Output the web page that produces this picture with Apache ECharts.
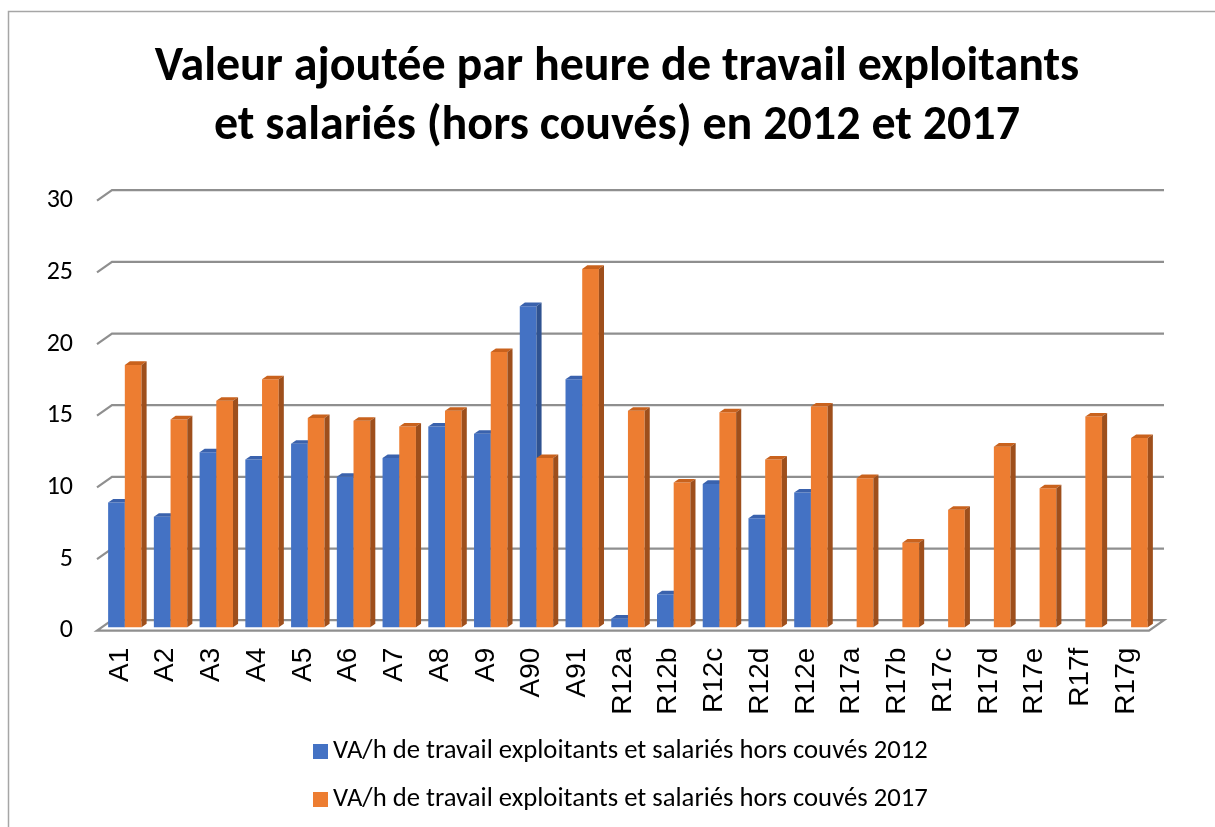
<!DOCTYPE html>
<html lang="fr">
<head>
    <meta charset="UTF-8">
    <title>VA par heure de travail</title>
    <script src="https://cdn.jsdelivr.net/npm/echarts@6/dist/echarts.min.js"></script>
    <style>
        html, body { margin: 0; padding: 0; background: #fff; }
    </style>
</head>
<body>
    <div id="main" style="width: 1215px;height: 827px;"></div>
<script>
    // categories et valeurs
    var categories = ['A1', 'A2', 'A3', 'A4', 'A5', 'A6', 'A7', 'A8', 'A9', 'A90', 'A91',
        'R12a', 'R12b', 'R12c', 'R12d', 'R12e',
        'R17a', 'R17b', 'R17c', 'R17d', 'R17e', 'R17f', 'R17g'];
    var va2012 = [8.7, 7.7, 12.2, 11.7, 12.8, 10.5, 11.8, 14.0, 13.5, 22.4, 17.3,
        0.6, 2.3, 10.0, 7.6, 9.4,
        null, null, null, null, null, null, null];
    var va2017 = [18.3, 14.5, 15.8, 17.3, 14.6, 14.4, 14.0, 15.1, 19.2, 11.8, 25.0,
        15.1, 10.1, 15.0, 11.7, 15.4,
        10.4, 5.9, 8.2, 12.6, 9.7, 14.7, 13.2];
    var yTicks = [0, 5, 10, 15, 20, 25, 30];

    var name2012 = 'VA/h de travail exploitants et salariés hors couvés 2012';
    var name2017 = 'VA/h de travail exploitants et salariés hors couvés 2017';

    var DX = 15, DY = -10.5;   // profondeur de la "boite" 3D
    var F0 = 0.33, F1 = 0.67;  // position des barres dans la profondeur
    var calibri = 'Calibri, Carlito, Lato, sans-serif';

    var myChart = echarts.init(document.getElementById('main'));

    // barre 3D : face avant, dessus, cote
    function bar3d(slot, front, topc, side) {
        return function (params, api) {
            var v = api.value(1);
            if (isNaN(v)) return;
            var base = api.coord([api.value(0), 0]);
            var top = api.coord([api.value(0), v]);
            var w = api.size([1, 0])[0] * 0.365;
            var x0 = base[0] - w + slot * w + DX * F0;
            var yb = base[1] + DY * F0;
            var yt = top[1] + DY * F0;
            var dx = DX * (F1 - F0), dy = DY * (F1 - F0);
            return {
                type: 'group',
                children: [
                    {type: 'rect', shape: {x: x0, y: yt, width: w, height: yb - yt}, style: {fill: front}},
                    {type: 'polygon', shape: {points: [[x0, yt], [x0 + w, yt], [x0 + w + dx, yt + dy], [x0 + dx, yt + dy]]}, style: {fill: topc}},
                    {type: 'polygon', shape: {points: [[x0 + w, yt], [x0 + w + dx, yt + dy], [x0 + w + dx, yb + dy], [x0 + w, yb]]}, style: {fill: side}}
                ]
            };
        };
    }

    // quadrillage sur le mur du fond + plancher
    function walls(params, api) {
        var v = api.value(1);
        var band = api.size([1, 0])[0];
        var p0 = api.coord([0, v]);
        var p1 = api.coord([categories.length - 1, v]);
        var xl = p0[0] - band / 2, xr = p1[0] + band / 2, y = p0[1];
        var lineStyle = {stroke: '#8f8f8f', lineWidth: 2.2, fill: null};
        if (v === 0) {
            return {
                type: 'polygon',
                shape: {points: [[xl, y], [xr, y], [xr + DX, y + DY], [xl + DX, y + DY]]},
                style: lineStyle
            };
        }
        return {
            type: 'polyline',
            shape: {points: [[xl, y], [xl + DX, y + DY], [xr + DX, y + DY]]},
            style: lineStyle
        };
    }

    myChart.setOption({
        backgroundColor: '#ffffff',
        animation: false,
        title: {
            text: 'Valeur ajoutée par heure de travail exploitants\net salariés (hors couvés) en 2012 et 2017',
            left: 612,
            textAlign: 'center',
            top: 33,
            textStyle: {
                fontFamily: calibri,
                fontSize: 48,
                fontWeight: 'bold',
                color: '#000',
                lineHeight: 59
            }
        },
        legend: {
            orient: 'vertical',
            left: 308,
            top: 733,
            itemWidth: 15,
            itemHeight: 15,
            itemGap: 21,
            icon: 'rect',
            data: [name2012, name2017],
            textStyle: {fontFamily: calibri, fontSize: 26.7, lineHeight: 27, color: '#000'}
        },
        grid: {left: 97, right: 66, top: 200.7, bottom: 196.3},
        xAxis: {
            type: 'category',
            data: categories,
            axisLine: {show: false},
            axisTick: {show: false},
            axisLabel: {
                rotate: 90,
                interval: 0,
                margin: 17,
                fontFamily: 'Liberation Sans, Arial, sans-serif',
                fontSize: 28,
                color: '#000'
            }
        },
        yAxis: {
            type: 'value',
            min: 0,
            max: 30,
            interval: 5,
            axisLine: {show: false},
            axisTick: {show: false},
            splitLine: {show: false},
            axisLabel: {
                margin: 24,
                fontFamily: calibri,
                fontSize: 26,
                padding: [6, 0, 0, 0],
                color: '#000'
            }
        },
        graphic: [{
            type: 'rect',
            shape: {x: 8.5, y: 11.5, width: 1300, height: 900},
            style: {fill: null, stroke: '#a6a6a6', lineWidth: 1.5},
            silent: true
        }],
        series: [
            {
                name: 'grille',
                type: 'custom',
                renderItem: walls,
                encode: {x: 0, y: 1},
                data: yTicks.map(function (t) { return [0, t]; }),
                z: 1,
                silent: true
            },
            {
                name: name2012,
                type: 'custom',
                renderItem: bar3d(0, '#4472c4', '#3a62ad', '#2f5290'),
                itemStyle: {color: '#4472c4'},
                encode: {x: 0, y: 1},
                data: va2012.map(function (v, i) { return [i, v === null ? '-' : v]; }),
                z: 2
            },
            {
                name: name2017,
                type: 'custom',
                renderItem: bar3d(1, '#ed7d31', '#c9621d', '#9e4f1c'),
                itemStyle: {color: '#ed7d31'},
                encode: {x: 0, y: 1},
                data: va2017.map(function (v, i) { return [i, v]; }),
                z: 3
            }
        ]
    });
</script>
</body>
</html>
